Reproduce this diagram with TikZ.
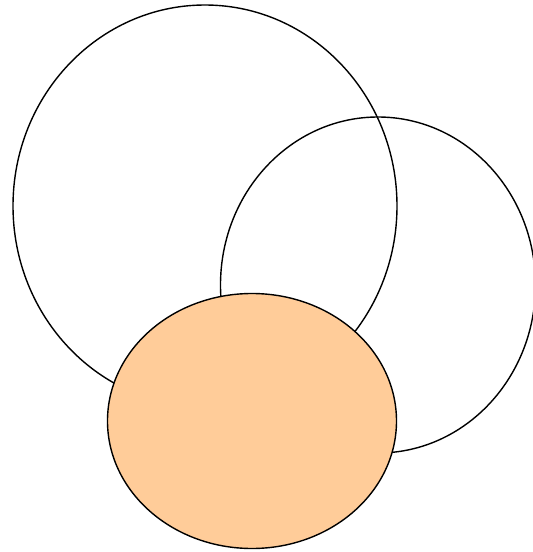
\documentclass[tikz,border=0pt]{standalone}
\usetikzlibrary{shapes.geometric}
\definecolor{peach}{HTML}{FFCC99}

\begin{document}
\begin{tikzpicture}[x=1pt,y=-1pt,
 blob/.style={ellipse,draw=black,line width=1.4pt,inner sep=0pt,outer sep=0pt}]
\useasboundingbox (0,0) rectangle (533,552);
\node[blob,minimum width=384pt,minimum height=402pt] (left) at (205,206) {};
\node[blob,minimum width=315pt,minimum height=336pt] (right) at (378,285) {};
\node[blob,fill=peach,minimum width=289pt,minimum height=255pt] (front) at (252,421) {};
\end{tikzpicture}
\end{document}
